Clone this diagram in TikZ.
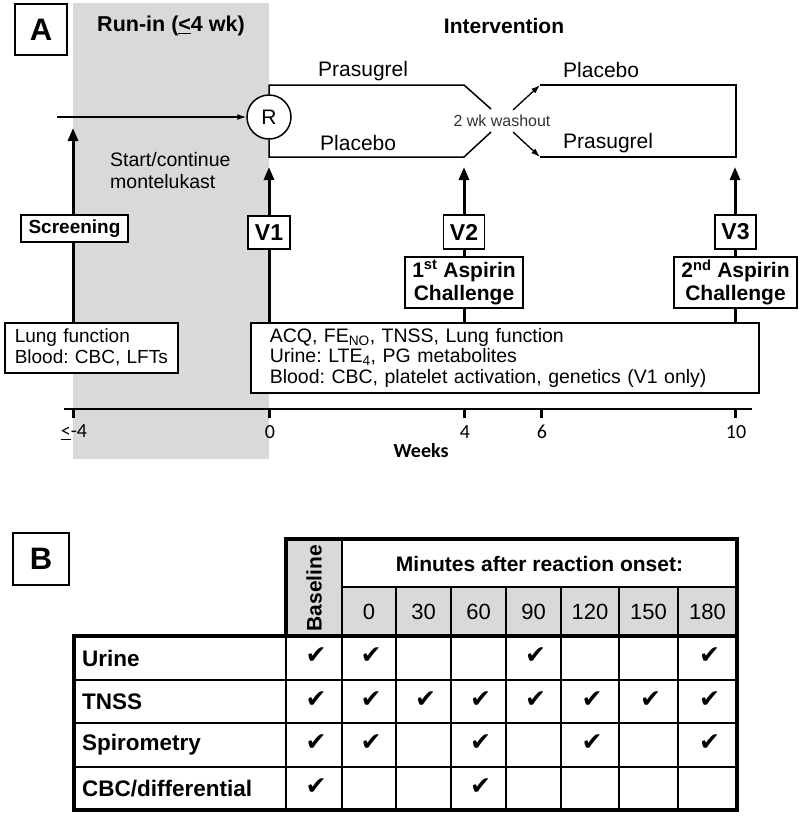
\documentclass[tikz,border=0pt]{standalone}
\usepackage{fontspec}
\setmainfont{Liberation Sans}
\newfontfamily\calfont{Carlito}
\newfontfamily\symfont{DejaVu Sans}
\usetikzlibrary{arrows.meta}
\newcommand{\fsz}[2]{\fontsize{#1}{#2}\selectfont}
\definecolor{runin}{RGB}{217,217,217}
\frenchspacing
\begin{document}
\frenchspacing
\begin{tikzpicture}[x=1pt,y=-1pt,
  box/.style={draw, line width=1.5pt, fill=white, inner sep=0pt},
  varrow/.style={line width=3pt, -{Triangle[length=13pt,width=10pt]}},
  tharrow/.style={line width=1.3pt, -{Latex[length=9pt,width=6pt]}},
  tline/.style={line width=1.5pt},
  thin/.style={line width=1.5pt},
  thick4/.style={line width=4.5pt, line join=miter, line cap=rect},
  txt/.style={inner sep=0pt, font=\fsz{21}{25}},
  lab/.style={inner sep=0pt, font=\fsz{22.5}{26}\bfseries, anchor=west},
  num/.style={inner sep=0pt, font=\fsz{22}{26}},
  chk/.style={inner sep=0pt, font=\symfont\fsz{25}{28}},
  tick/.style={line width=3pt},
  ticklab/.style={inner sep=0pt, font=\calfont\fsz{20}{24}}]
\useasboundingbox (0,0) rectangle (800,817);
% run-in shading
\fill[runin] (73,3) rectangle (269,459);
% panel label A
\node[box, line width=2pt, minimum width=52pt, minimum height=51pt] (A) at (41,29.5) {\fsz{31}{31}\bfseries A};
\node[txt, font=\fsz{21.5}{25}\bfseries] (runinlab) at (171,26) {Run-in (\underline{<}4 wk)};
\node[txt, font=\fsz{21}{25}\bfseries] (intlab) at (504,26) {Intervention};
% randomisation
\coordinate (entry) at (57,117);
\node[circle, draw, line width=1.5pt, fill=white, minimum size=44pt, inner sep=0pt, font=\fsz{21}{24}] (R) at (269,117) {R};
\draw[tharrow] (entry) -- (R.west);
% first period
\coordinate (c1a) at (464,85); \coordinate (c1b) at (491,109);
\coordinate (c2a) at (464,157); \coordinate (c2b) at (491,132);
\draw[tline] (R.north) |- (c1a) -- (c1b);
\draw[tline] (R.south) |- (c2a) -- (c2b);
\node[txt, font=\fsz{16}{19}, text=black!80] (wash) at (502,121) {2 wk washout};
% second period
\coordinate (d1a) at (513,110); \coordinate (d1b) at (540,85);
\coordinate (d2a) at (513,132); \coordinate (d2b) at (540,157);
\coordinate (e1) at (736,85); \coordinate (e2) at (736,157);
\draw[tharrow] (d1a) -- (d1b);
\draw[tharrow] (d2a) -- (d2b);
\draw[tline] (d1b) -- (e1) -- (e2) -- (d2b);
\node[txt, anchor=west] (pras1) at (318,71) {Prasugrel};
\node[txt, anchor=west] (plac1) at (320,143) {Placebo};
\node[txt, anchor=west] (plac2) at (563,70) {Placebo};
\node[txt, anchor=west] (pras2) at (563,143) {Prasugrel};
\node[txt, anchor=north west, align=left, font=\fsz{19.5}{22}] (monte) at (110,152) {Start/continue\\montelukast};
% measurement boxes (for arrow origins)
\node[box, anchor=north west, text width=158pt, minimum height=50pt, inner xsep=7.5pt, align=left, font=\fsz{19}{21}] (lung) at (4,322) {\hspace*{2.5pt}Lung function\\\hspace*{2.5pt}Blood: CBC, LFTs};
\node[box, anchor=north west, text width=470pt, minimum height=70pt, inner xsep=19pt, align=left, font=\fsz{19.5}{20.5}] (acq) at (250,322) {ACQ, FE\textsubscript{NO}, TNSS, Lung function\\Urine: LTE\textsubscript{4}, PG metabolites\\Blood: CBC, platelet activation, genetics (V1 only)};
% visit arrows
\coordinate (tS) at (73,128);
\coordinate (t1) at (269,167);
\coordinate (t2) at (464,167);
\coordinate (t3) at (735,167);
\draw[varrow] (lung.north -| tS) -- (tS);
\draw[varrow] (acq.north -| t1) -- (t1);
\draw[varrow] (acq.north -| t2) -- (t2);
\draw[varrow] (acq.north -| t3) -- (t3);
% visit boxes
\node[box, minimum width=107pt, minimum height=27pt, font=\fsz{19}{22}\bfseries] (scr) at (74.5,228.5) {Screening};
\node[box, minimum width=42pt, minimum height=33pt, font=\fsz{23}{26}\bfseries] (v1) at (269,232.5) {V1};
\node[box, minimum width=41pt, minimum height=34pt, font=\fsz{23}{26}\bfseries] (v2) at (464,232) {V2};
\node[box, minimum width=41pt, minimum height=34pt, font=\fsz{23}{26}\bfseries] (v3) at (735.5,232) {V3};
\node[box, minimum width=118pt, minimum height=51pt, align=center, font=\fsz{21}{23}\bfseries] (asp1) at (464,282.5) {1\textsuperscript{st} Aspirin\\Challenge};
\node[box, minimum width=123pt, minimum height=51pt, align=center, font=\fsz{21}{23}\bfseries] (asp2) at (735.5,282.5) {2\textsuperscript{nd} Aspirin\\Challenge};
% time axis
\coordinate (ax0) at (64,409); \coordinate (ax1) at (752,409);
\draw[line width=2pt] (ax0) -- (ax1);
\foreach \x/\l [count=\i] in {73/{\underline{<}-4}, 269/0, 464/4, 541/6, 735/10}{
  \draw[tick] (\x,409) -- (\x,418);
  \node[ticklab] (tk\i) at (\x+1,432) {\l};
}
\node[ticklab, font=\calfont\fsz{20}{24}\bfseries] (weeks) at (421,451) {Weeks};
% panel B
\node[box, line width=2pt, minimum width=56pt, minimum height=52pt] (B) at (41,559) {\fsz{31}{31}\bfseries B};
\fill[runin] (286,539) rectangle (342,636);
\fill[runin] (342,587) rectangle (737,636);
\draw[thin] (342,587) -- (737,587);
\draw[thin] (342,539) -- (342,810);
\draw[thin] (286,636) -- (286,810);
\foreach \x in {396,451,506,561,619,678} \draw[thin] (\x,587) -- (\x,810);
\foreach \y in {680,723,767} \draw[thin] (74,\y) -- (737,\y);
\draw[thick4] (286,636) -- (286,539) -- (737,539) -- (737,810) -- (74,810) -- (74,636) -- cycle;
\draw[thick4] (286,636) -- (737,636);
\node[inner sep=0pt, rotate=90, font=\fsz{21}{24}\bfseries] (base) at (314,588) {Baseline};
\node[inner sep=0pt, font=\fsz{21}{24}\bfseries] (minutes) at (539.5,564) {Minutes after reaction onset:};
\foreach \x/\l [count=\i] in {369/0, 423.5/30, 478.5/60, 533.5/90, 590/120, 648.5/150, 707.5/180}
  \node[num] (m\i) at (\x,612) {\l};
\node[lab] (r1) at (82,658) {Urine};
\node[lab] (r2) at (82,701.5) {TNSS};
\node[lab] (r3) at (82,745) {Spirometry};
\node[lab] (r4) at (82,788.5) {CBC/differential};
% checks
\foreach \x/\y [count=\i] in {314/658, 369/658, 533.5/658, 707.5/658,
  314/701.5, 369/701.5, 423.5/701.5, 478.5/701.5, 533.5/701.5, 590/701.5, 648.5/701.5, 707.5/701.5,
  314/745, 369/745, 478.5/745, 590/745, 707.5/745,
  314/788.5, 478.5/788.5}
  \node[chk] (ck\i) at (\x+2,\y-2) {✔};
\end{tikzpicture}
\end{document}
